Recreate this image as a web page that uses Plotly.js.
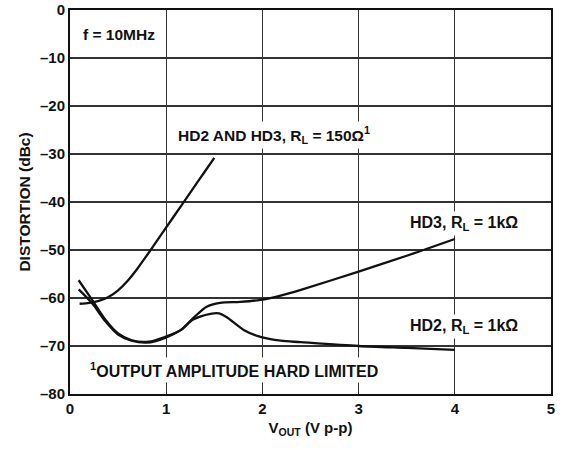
<!DOCTYPE html>
<html>
<head>
<meta charset="utf-8">
<script src="https://cdn.plot.ly/plotly-3.0.1.min.js"></script>
<style>html,body{margin:0;padding:0;background:#fff;}#chart{width:575px;height:450px;}</style>
</head>
<body>
<div id="chart"></div>
<script>
// HD2 and HD3, RL = 150 ohm
const hd150X = [0.10, 0.20, 0.30, 0.40, 0.50, 0.60, 0.70, 0.80, 0.90, 1.00, 1.10, 1.20, 1.30, 1.40, 1.50];
const hd150Y = [-61.2, -61.0, -60.6, -59.8, -58.4, -56.4, -53.9, -51.1, -48.2, -45.3, -42.4, -39.5, -36.6, -33.7, -30.8];

// HD3, RL = 1k
const hd3X = [0.09, 0.23, 0.37, 0.50, 0.64, 0.82, 0.99, 1.15, 1.28, 1.42, 1.56, 1.77, 1.98, 2.19, 2.40, 3.00, 3.50, 4.00];
const hd3Y = [-56.3, -60.4, -64.6, -67.4, -68.8, -69.1, -68.1, -66.7, -64.2, -61.8, -61.0, -60.8, -60.4, -59.5, -58.3, -54.5, -51.2, -47.7];

// HD2, RL = 1k
const hd2X = [0.09, 0.23, 0.37, 0.50, 0.64, 0.80, 0.99, 1.15, 1.28, 1.46, 1.55, 1.63, 1.81, 1.98, 2.19, 2.40, 3.00, 3.50, 4.00];
const hd2Y = [-58.2, -61.1, -64.9, -67.6, -68.9, -69.3, -68.3, -66.7, -64.5, -63.3, -63.2, -64.0, -66.7, -68.1, -68.9, -69.2, -70.0, -70.4, -70.8];

const xTicks = [0, 1, 2, 3, 4, 5];
const yTicks = [-80, -70, -60, -50, -40, -30, -20, -10, 0];

const FONT = 'Liberation Sans, Arial, sans-serif';
const lineStyle = {color: '#111', width: 2.3, shape: 'spline', smoothing: 0.8};

const traces = [
  {x: hd150X, y: hd150Y, mode: 'lines', line: lineStyle, name: 'HD2 AND HD3, RL = 150Ω', hoverinfo: 'skip'},
  {x: hd3X, y: hd3Y, mode: 'lines', line: lineStyle, name: 'HD3, RL = 1kΩ', hoverinfo: 'skip'},
  {x: hd2X, y: hd2Y, mode: 'lines', line: lineStyle, name: 'HD2, RL = 1kΩ', hoverinfo: 'skip'}
];

function ann(text, x, y, size) {
  return {text: text, x: x, y: y, xref: 'x', yref: 'y', xanchor: 'left', yanchor: 'middle',
          showarrow: false, font: {family: FONT, size: size, color: '#111', weight: 'bold'},
          bgcolor: '#fff', borderpad: 2};
}

const layout = {
  width: 575, height: 450,
  margin: {l: 70, r: 24, t: 10, b: 56},
  paper_bgcolor: '#fff', plot_bgcolor: '#fff',
  showlegend: false,
  font: {family: FONT, color: '#111', weight: 'bold'},
  xaxis: {
    range: [0, 5], tickvals: xTicks, ticktext: xTicks.map(String),
    showgrid: true, gridcolor: '#333', gridwidth: 1.2, zeroline: false,
    showline: true, mirror: true, linecolor: '#111', linewidth: 2,
    ticks: '', tickfont: {family: FONT, size: 15, color: '#111', weight: 'bold'},
    title: {text: 'V<sub>OUT</sub> (V p-p)', font: {family: FONT, size: 15, color: '#111', weight: 'bold'}, standoff: 6},
    automargin: false, fixedrange: true
  },
  yaxis: {
    range: [-80, 0], tickvals: yTicks, ticktext: yTicks.map(v => v < 0 ? '\u2013' + Math.abs(v) : String(v)),
    showgrid: true, gridcolor: '#333', gridwidth: 1.2, zeroline: false,
    showline: true, mirror: true, linecolor: '#111', linewidth: 2,
    ticks: '', tickfont: {family: FONT, size: 15, color: '#111', weight: 'bold'},
    title: {text: 'DISTORTION (dBc)', font: {family: FONT, size: 15.5, color: '#111', weight: 'bold'}, standoff: 6},
    automargin: false, fixedrange: true
  },
  annotations: [
    ann('f = 10MHz', 0.10, -5.2, 15.5),
    ann('HD2 AND HD3, R<sub>L</sub> = 150Ω<sup>1</sup>', 1.09, -26.0, 15.5),
    ann('HD3, R<sub>L</sub> = 1kΩ', 3.50, -44.4, 16),
    ann('HD2, R<sub>L</sub> = 1kΩ', 3.50, -66.0, 16),
    ann('<sup>1</sup>OUTPUT AMPLITUDE HARD LIMITED', 0.18, -75.0, 16)
  ]
};

Plotly.newPlot('chart', traces, layout, {displayModeBar: false, staticPlot: true});
</script>
</body>
</html>
